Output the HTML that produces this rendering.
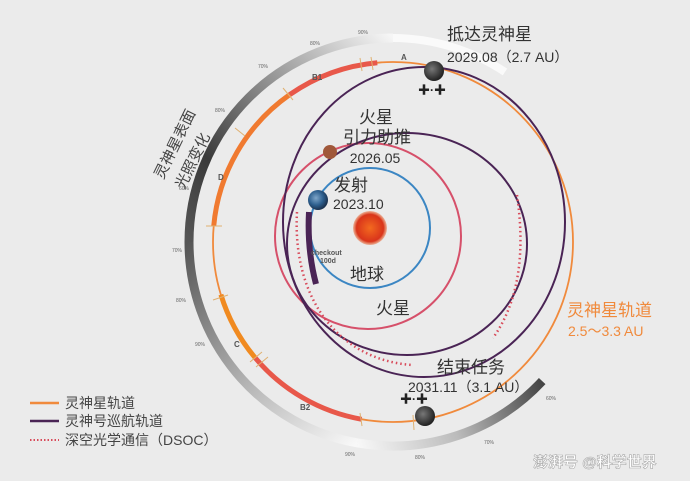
<!DOCTYPE html>
<html><head><meta charset="utf-8"><style>
html,body{margin:0;padding:0;background:#ebebeb;}
svg{display:block;}
text{font-family:"Liberation Sans","Noto Sans CJK SC",sans-serif;}
</style></head><body>
<svg width="690" height="481" viewBox="0 0 690 481" xmlns="http://www.w3.org/2000/svg">
<defs>
<linearGradient id="g1" x1="393" y1="38" x2="189" y2="242" gradientUnits="userSpaceOnUse">
<stop offset="0" stop-color="#f6f6f6"/><stop offset="0.45" stop-color="#888"/><stop offset="0.75" stop-color="#3a3a3a"/><stop offset="1" stop-color="#555"/></linearGradient>
<linearGradient id="g2" x1="189" y1="242" x2="357" y2="443" gradientUnits="userSpaceOnUse">
<stop offset="0" stop-color="#555"/><stop offset="0.6" stop-color="#bbb"/><stop offset="1" stop-color="#f8f8f8"/></linearGradient>
<linearGradient id="g3" x1="357" y1="443" x2="542" y2="381" gradientUnits="userSpaceOnUse">
<stop offset="0" stop-color="#f8f8f8"/><stop offset="0.5" stop-color="#bbb"/><stop offset="1" stop-color="#444"/></linearGradient>
<radialGradient id="sun" cx="0.5" cy="0.5" r="0.5"><stop offset="0" stop-color="#f36a1f"/><stop offset="0.8" stop-color="#d9341b"/><stop offset="1" stop-color="#e85a20" stop-opacity="0.4"/></radialGradient>
<radialGradient id="earth" cx="0.4" cy="0.4" r="0.6"><stop offset="0" stop-color="#7ea6c9"/><stop offset="0.6" stop-color="#2d5f8e"/><stop offset="1" stop-color="#1c3350"/></radialGradient>
<radialGradient id="ast" cx="0.4" cy="0.4" r="0.6"><stop offset="0" stop-color="#777"/><stop offset="1" stop-color="#222"/></radialGradient>
</defs>
<path d="M393,38 A204,204 0 0 1 505,72" stroke="#fafafa" stroke-width="8" fill="none"/>
<path d="M393,38 A204,204 0 0 0 189,242" stroke="url(#g1)" stroke-width="9" fill="none"/>
<path d="M189,242 A204,204 0 0 0 357.6,442.9" stroke="url(#g2)" stroke-width="9" fill="none"/>
<path d="M357.6,442.9 A204,204 0 0 0 542.2,381.1" stroke="url(#g3)" stroke-width="9" fill="none"/>
<circle cx="393" cy="242" r="180" stroke="#f08a3c" stroke-width="1.8" fill="none"/>
<path d="M377.3,62.7 A180,180 0 0 0 289.8,94.6" stroke="#e8584a" stroke-width="5" fill="none"/>
<path d="M289.8,94.6 A180,180 0 0 0 213.7,226.3" stroke="#f07a30" stroke-width="5" fill="none"/>
<path d="M220.9,294.6 A180,180 0 0 0 255.1,357.7" stroke="#f08a20" stroke-width="5" fill="none"/>
<path d="M255.1,357.7 A180,180 0 0 0 361.7,419.3" stroke="#e8584a" stroke-width="5" fill="none"/>
<g stroke="#e0b070" stroke-width="1">
<line x1="371" y1="57" x2="373" y2="70"/><line x1="360" y1="58" x2="362" y2="71"/>
<line x1="283" y1="88" x2="293" y2="100"/><line x1="235" y1="128" x2="245" y2="136"/>
<line x1="206" y1="226" x2="222" y2="226"/><line x1="213" y1="300" x2="228" y2="295"/>
<line x1="250" y1="362" x2="262" y2="352"/><line x1="256" y1="367" x2="268" y2="357"/>
<line x1="360" y1="413" x2="362" y2="426"/><line x1="413" y1="415" x2="414" y2="430"/>
</g>
<circle cx="370" cy="228" r="60" stroke="#3b86c3" stroke-width="2" fill="none"/>
<circle cx="368" cy="236" r="93" stroke="#d6506a" stroke-width="2" fill="none"/>
<ellipse cx="407" cy="244" rx="120" ry="111" stroke="#4a2455" stroke-width="2" fill="none"/>
<ellipse cx="424" cy="222" rx="141" ry="155" stroke="#4a2455" stroke-width="2" fill="none"/>
<path d="M309,212 Q307,250 316,284" stroke="#4a2455" stroke-width="6" fill="none"/>
<path d="M297,212 C292,300 340,360 412,365" stroke="#d84a5a" stroke-width="2.5" stroke-dasharray="1.5 3" fill="none"/>
<path d="M517,195 C525,250 520,300 493,338" stroke="#d84a5a" stroke-width="2.5" stroke-dasharray="1.5 3" fill="none"/>
<circle cx="370" cy="228" r="17" fill="url(#sun)"/>
<circle cx="330" cy="152" r="7" fill="#a0583a"/>
<circle cx="318" cy="200" r="10" fill="url(#earth)"/>
<circle cx="434" cy="71" r="10" fill="url(#ast)"/>
<circle cx="425" cy="416" r="10" fill="url(#ast)"/>
<text x="418" y="94" font-size="12" font-weight="bold" fill="#222">✚·✚</text>
<text x="400" y="403" font-size="12" font-weight="bold" fill="#222">✚·✚</text>
<g fill="#333">
<text x="447" y="40" font-size="17">抵达灵神星</text>
<text x="447" y="62" font-size="14">2029.08（2.7 AU）</text>
<text x="376" y="123" font-size="17" text-anchor="middle">火星</text>
<text x="377" y="143" font-size="17" text-anchor="middle">引力助推</text>
<text x="375" y="163" font-size="14" text-anchor="middle">2026.05</text>
<text x="334" y="191" font-size="17">发射</text>
<text x="333" y="209" font-size="14">2023.10</text>
<text x="350" y="280" font-size="17">地球</text>
<text x="376" y="314" font-size="17">火星</text>
<text x="437" y="373" font-size="17">结束任务</text>
<text x="408" y="392" font-size="14">2031.11（3.1 AU）</text>
<text x="311" y="255" font-size="7" font-weight="bold" fill="#555">checkout</text>
<text x="320" y="263" font-size="7" font-weight="bold" fill="#555">100d</text>
</g>
<g fill="#555" font-size="8" font-weight="bold">
<text x="401" y="60">A</text><text x="312" y="80">B1</text><text x="218" y="180">D</text>
<text x="234" y="347">C</text><text x="300" y="410">B2</text>
</g>
<g fill="#666" font-size="5">
<text x="310" y="45">80%</text><text x="358" y="34">90%</text><text x="258" y="68">70%</text>
<text x="215" y="112">80%</text><text x="179" y="190">60%</text><text x="172" y="252">70%</text>
<text x="176" y="302">80%</text><text x="195" y="346">90%</text><text x="345" y="456">90%</text>
<text x="415" y="459">80%</text><text x="484" y="444">70%</text><text x="546" y="400">60%</text>
</g>
<text transform="translate(163,180) rotate(-64)" font-size="15" fill="#444">灵神星表面</text>
<text transform="translate(184,190) rotate(-64)" font-size="15" fill="#444">光照变化</text>
<text x="567" y="316" font-size="17" fill="#f08a3c">灵神星轨道</text>
<text x="568" y="336" font-size="14" fill="#f08a3c">2.5～3.3 AU</text>
<line x1="30" y1="403" x2="59" y2="403" stroke="#f08a3c" stroke-width="2.5"/>
<line x1="30" y1="421" x2="59" y2="421" stroke="#4a2455" stroke-width="2.5"/>
<line x1="30" y1="440" x2="59" y2="440" stroke="#d84a5a" stroke-width="2" stroke-dasharray="1.5 2"/>
<g fill="#444" font-size="14">
<text x="65" y="408">灵神星轨道</text>
<text x="65" y="426">灵神号巡航轨道</text>
<text x="65" y="445">深空光学通信（DSOC）</text>
</g>
<text x="533" y="467" font-size="15" fill="#fff" stroke="#aaa" stroke-width="0.6" font-weight="bold">澎湃号 @科学世界</text>
</svg>
</body></html>
